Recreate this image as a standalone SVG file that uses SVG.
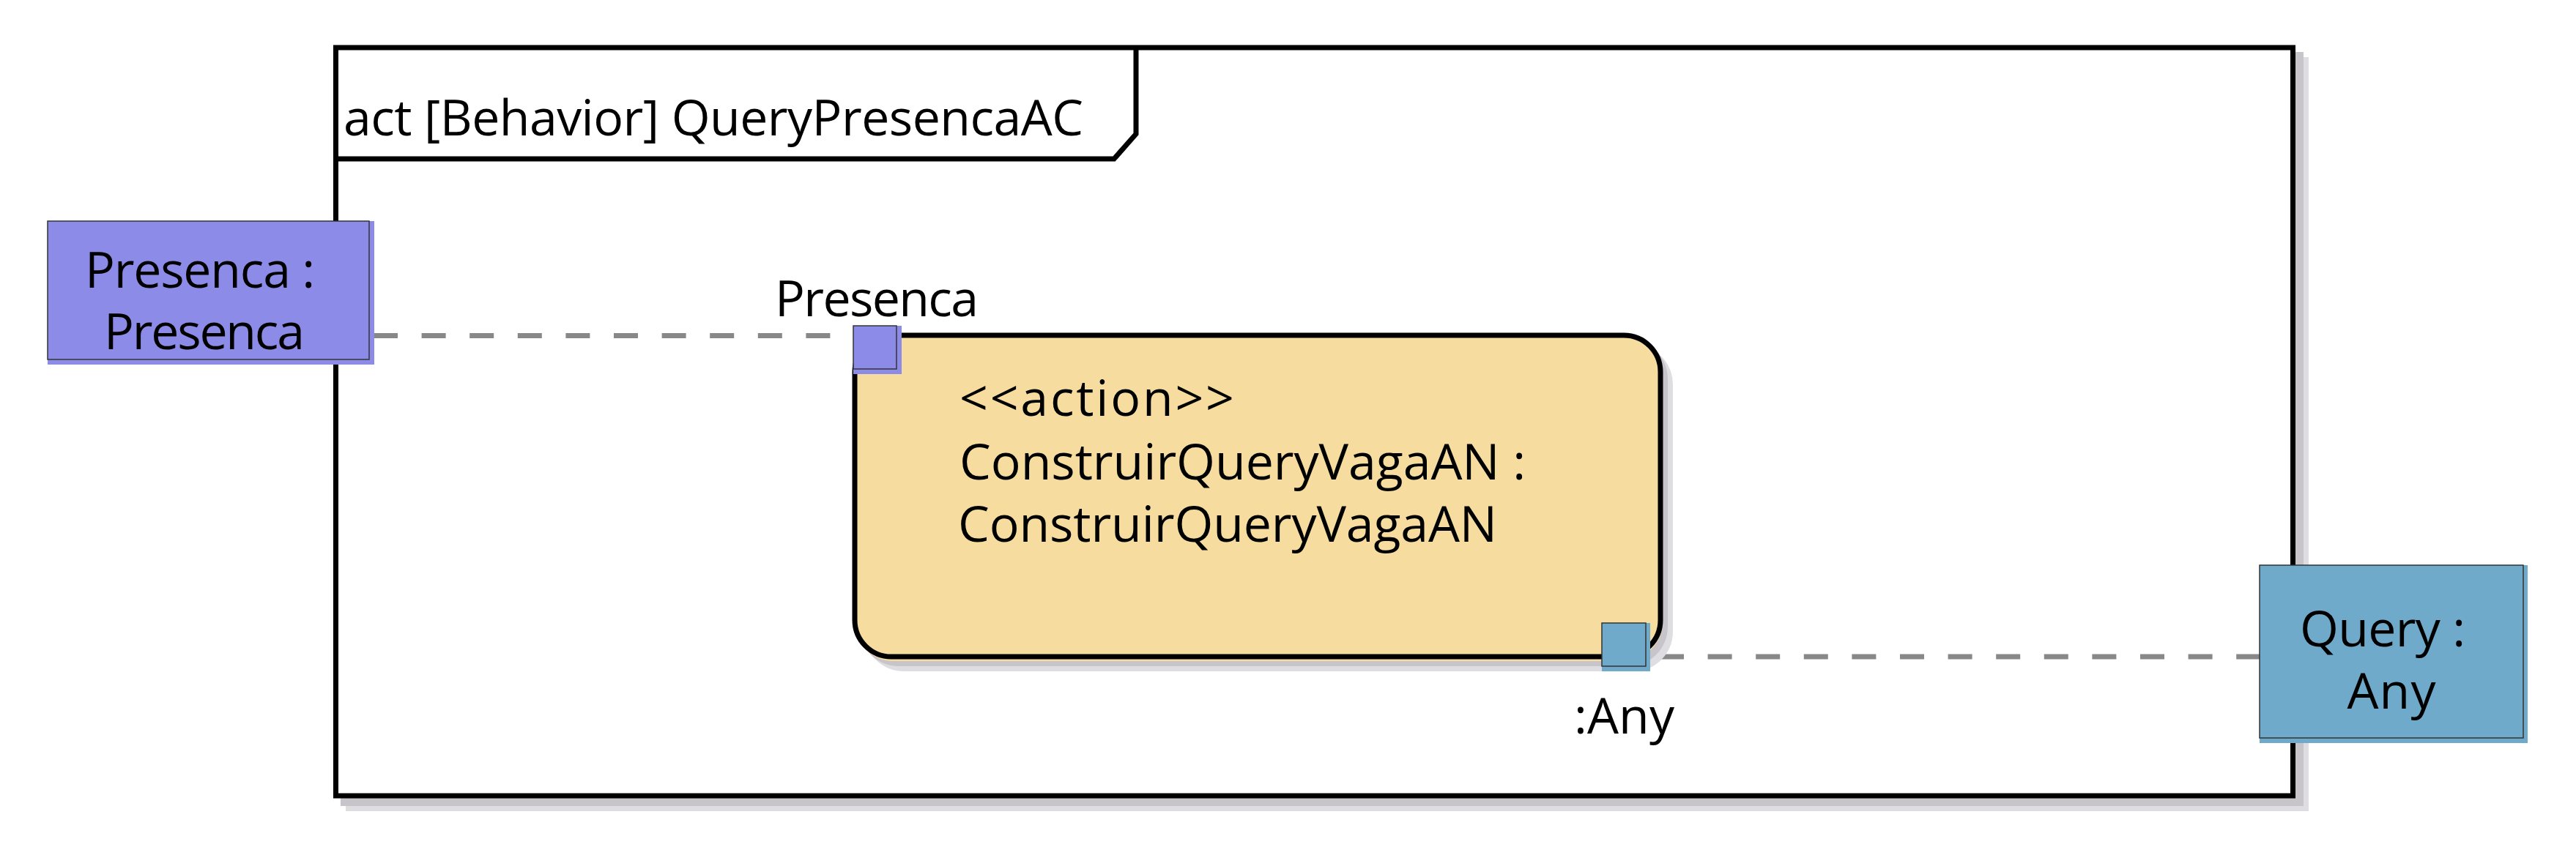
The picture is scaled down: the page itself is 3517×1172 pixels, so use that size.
<svg xmlns="http://www.w3.org/2000/svg" width="3517" height="1172" viewBox="0 0 3517 1172">
<style>
text{font-family:"Open Sans","Noto Sans","DejaVu Sans",sans-serif;font-size:68px;fill:#000}
.sh1{fill:#c7c5ca}
.sh2{fill:#dedde1}
.frame{fill:#fff;stroke:#000;stroke-width:7}
.tbox{fill:none;stroke:#000;stroke-width:7}
.act{fill:#f6dc9e;stroke:#000;stroke-width:7}
.actfill{fill:#f6dc9e}
.objP{fill:#8c8ce8}
.objQ{fill:#70aacb}
.edge{fill:none;stroke:#333;stroke-width:1.5}
.flow{fill:none;stroke:#888;stroke-width:7;stroke-dasharray:33 32.6}
.mid{text-anchor:middle}
</style>
<g id="frame">
<rect class="sh2" x="472" y="78" width="2680" height="1030"/>
<rect class="sh1" x="465" y="71" width="2680" height="1030"/>
<rect class="frame" x="458.5" y="65" width="2672" height="1022"/>
<path class="tbox" d="M458.5,217 H1521 L1551,183 V65"/>
<text x="469" y="185" textLength="1010">act [Behavior] QueryPresencaAC</text>
</g>
<g id="connectors">
<line class="flow" x1="510" y1="458.5" x2="1165" y2="458.5"/>
<line class="flow" x1="2266" y1="897" x2="3085" y2="897"/>
</g>
<g id="action">
<rect class="sh2" x="1180" y="471" width="1104" height="446" rx="54"/>
<rect class="sh1" x="1173" y="464" width="1104" height="446" rx="54"/>
<rect class="actfill" x="1166" y="457" width="1104" height="446" rx="54"/>
<rect class="act" x="1167" y="458" width="1100" height="439" rx="50"/>
<text x="1310" y="568" textLength="375">&lt;&lt;action&gt;&gt;</text>
<text x="1310" y="655" textLength="773">ConstruirQueryVagaAN :</text>
<text x="1308" y="740" textLength="736">ConstruirQueryVagaAN</text>
</g>
<g id="presenca-object">
<rect class="objP" x="65" y="302" width="446" height="196"/>
<rect class="edge" x="65" y="302" width="439" height="189"/>
<text class="mid" x="273" y="393" textLength="314">Presenca :</text>
<text class="mid" x="279" y="477" textLength="274">Presenca</text>
</g>
<g id="presenca-pin">
<rect class="objP" x="1165" y="445" width="66" height="66"/>
<rect class="edge" x="1165" y="445" width="59" height="59"/>
<text x="1058" y="432" textLength="278">Presenca</text>
</g>
<g id="any-pin">
<rect class="objQ" x="2187" y="851" width="66" height="66"/>
<rect class="edge" x="2187" y="851" width="60" height="59"/>
<text x="2149" y="1002" textLength="137">:Any</text>
</g>
<g id="query-object">
<rect class="objQ" x="3085" y="772" width="366" height="243"/>
<rect class="edge" x="3085" y="772" width="360" height="236"/>
<text class="mid" x="3253" y="883" textLength="226">Query :</text>
<text class="mid" x="3265" y="968" textLength="121">Any</text>
</g>
</svg>
